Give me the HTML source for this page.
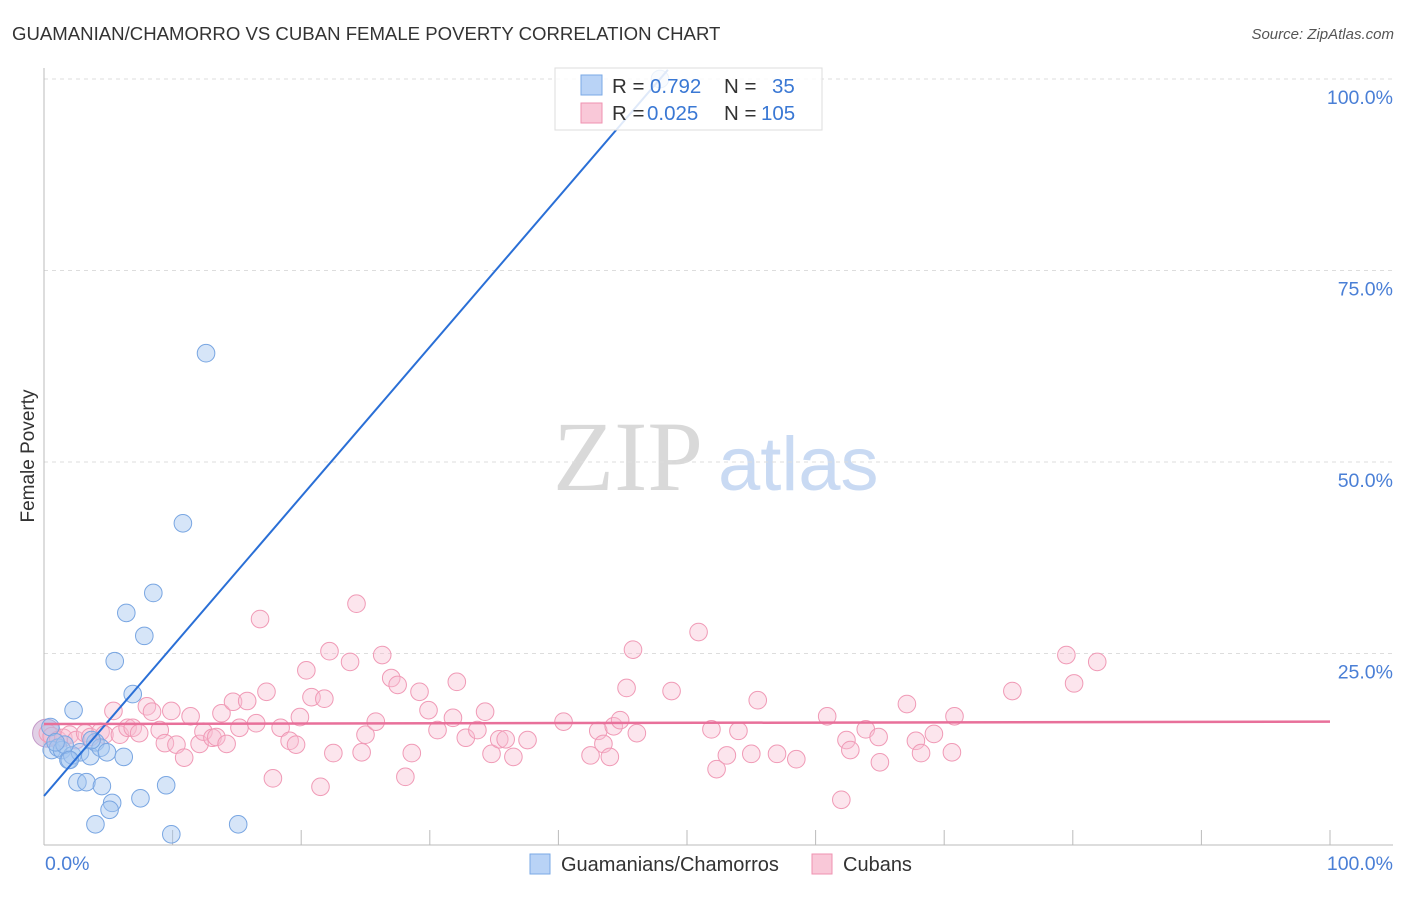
<!DOCTYPE html>
<html><head><meta charset="utf-8"><style>
body{margin:0;background:#fff;font-family:"Liberation Sans",sans-serif;}
</style></head><body>
<svg id="chart" width="1406" height="892" xmlns="http://www.w3.org/2000/svg" font-family="Liberation Sans, sans-serif">
<text x="12" y="40" font-size="18.6" fill="#333">GUAMANIAN/CHAMORRO VS CUBAN FEMALE POVERTY CORRELATION CHART</text>
<text x="1394" y="39" font-size="15" fill="#555" font-style="italic" text-anchor="end">Source: ZipAtlas.com</text>
<g>
<text x="553" y="490" font-size="100" fill="#d9d9d9" style="font-family:'Liberation Serif',serif">ZIP</text>
<text x="718" y="490" font-size="76" fill="#c9daf3">atlas</text>
</g>
<g id="grid"></g>
<g id="axes"></g>
<g id="pts"></g>
<g id="lines"></g>
<text transform="translate(34,456) rotate(-90)" font-size="19" fill="#333" text-anchor="middle">Female Poverty</text>
<g>
<rect x="555" y="68" width="267" height="62" fill="rgba(255,255,255,0.85)" stroke="#ddd"/>
<rect x="581" y="75" width="21" height="20" fill="#b9d3f6" stroke="#7aa8e6"/>
<rect x="581" y="103" width="21" height="20" fill="#f9c8d8" stroke="#ef92b0"/>
<text x="612" y="93" font-size="20.5" fill="#333">R = </text><text x="650" y="93" font-size="20.5" fill="#3a78d4">0.792</text>
<text x="724" y="93" font-size="20.5" fill="#333">N = </text><text x="772" y="93" font-size="20.5" fill="#3a78d4">35</text>
<text x="612" y="120" font-size="20.5" fill="#333">R = </text><text x="647" y="120" font-size="20.5" fill="#3a78d4">0.025</text>
<text x="724" y="120" font-size="20.5" fill="#333">N = </text><text x="761" y="120" font-size="20.5" fill="#3a78d4">105</text>
</g>
<g>
<rect x="530" y="854" width="20" height="20" fill="#b9d3f6" stroke="#7aa8e6"/>
<text x="561" y="871" font-size="20" fill="#333">Guamanians/Chamorros</text>
<rect x="812" y="854" width="20" height="20" fill="#f9c8d8" stroke="#ef92b0"/>
<text x="843" y="871" font-size="20" fill="#333">Cubans</text>
</g>
</svg>
<script>
const yTicks=[25,50,75,100];
const yTickLabels=["25.0%","50.0%","75.0%","100.0%"];
const xTickVals=[0,10,20,30,40,50,60,70,80,90,100];
const blueX=[47.9,12.6,10.8,8.5,6.4,7.8,5.5,6.9,2.3,0.5,0.6,1.1,1.4,1.9,2.2,2.8,3.6,4.0,4.4,4.9,6.2,2.6,3.3,4.5,5.3,5.1,7.5,9.5,4.0,9.9,15.1,1.6,0.9,3.7,2.0];
const blueY=[100,64.2,42.0,32.9,30.3,27.3,24.0,19.7,17.6,15.4,12.4,12.7,12.4,11.1,11.7,12.1,11.6,13.4,12.7,12.1,11.5,8.2,8.2,7.7,5.5,4.6,6.1,7.8,2.7,1.4,2.7,13.1,13.4,13.7,11.1];
const pinkX=[0.3,0.6,1.1,1.5,2.0,2.5,3.2,3.6,4.4,4.7,5.4,5.9,6.5,6.9,7.4,8.0,8.4,9.0,9.4,9.9,10.3,10.9,11.4,12.1,12.4,13.1,13.4,13.8,14.2,14.7,15.2,15.8,16.5,16.8,17.3,17.8,18.4,19.1,19.6,19.9,20.4,20.8,21.5,21.8,22.2,22.5,23.8,24.3,24.7,25.0,25.8,26.3,27.0,27.5,28.1,28.6,29.2,29.9,30.6,31.8,32.1,32.8,33.7,34.3,34.8,35.4,35.9,36.5,37.6,40.4,42.5,43.1,43.5,44.0,44.3,44.8,45.3,45.8,46.1,48.8,50.9,51.9,52.3,53.1,54.0,55.0,55.5,57.0,58.5,60.9,62.0,62.4,62.7,63.9,64.9,65.0,67.1,67.8,68.2,69.2,70.6,70.8,75.3,79.5,80.1,81.9];
const pinkY=[14.6,14.2,13.7,14.0,14.4,13.7,14.6,14.1,14.8,14.4,17.5,14.4,15.3,15.3,14.6,18.1,17.4,15.0,13.3,17.5,13.1,11.4,16.8,13.2,14.8,14.0,14.1,17.2,13.2,18.7,15.3,18.8,15.9,29.5,20.0,8.7,15.3,13.6,13.1,16.7,22.8,19.3,7.6,19.1,25.3,12.0,23.9,31.5,12.1,14.4,16.1,24.8,21.8,20.9,8.9,12.0,20.0,17.6,15.0,16.6,21.3,14.0,15.0,17.4,11.9,13.8,13.8,11.5,13.7,16.1,11.7,14.9,13.2,11.5,15.5,16.3,20.5,25.5,14.6,20.1,27.8,15.1,9.9,11.7,14.9,11.9,18.9,11.9,11.2,16.8,5.9,13.7,12.4,15.1,14.1,10.8,18.4,13.6,12.0,14.5,12.1,16.8,20.1,24.8,21.1,23.9];
const blueLine=[6.4,47.9,100];   // intercept, x at which y=100
const pinkLine=[15.8,16.1];      // y at x=0, y at x=100
const NS="http://www.w3.org/2000/svg";
const X=v=>44+v*12.86, Y=v=>845-v*7.66;
function mk(tag,attrs,parent){const e=document.createElementNS(NS,tag);for(const k in attrs)e.setAttribute(k,attrs[k]);document.getElementById(parent).appendChild(e);return e;}
yTicks.forEach((t,i)=>{
 const g=mk('line',{x1:44,x2:1393,y1:Y(t),y2:Y(t),stroke:'#ddd','stroke-dasharray':'4,4'},'grid');
 
 
 const l=mk('text',{x:1393,y:Y(t)+25,'font-size':19.5,fill:'#4a7fd6','text-anchor':'end'},'axes');
 l.textContent=yTickLabels[i];
 
 
});
const ax=mk('line',{x1:44,x2:44,y1:68,y2:845,stroke:'#bbb'},'axes');


const bx=mk('line',{x1:44,x2:1393,y1:845,y2:845,stroke:'#bbb'},'axes');


xTickVals.forEach(t=>{
 const k=mk('line',{x1:X(t),x2:X(t),y1:830,y2:845,stroke:'#bbb'},'axes');
 
 
});
const x0=mk('text',{x:45,y:870,'font-size':19.5,fill:'#4a7fd6'},'axes');x0.textContent='0.0%';


const x1=mk('text',{x:1393,y:870,'font-size':19.5,fill:'#4a7fd6','text-anchor':'end'},'axes');x1.textContent='100.0%';


const big=mk('circle',{cx:X(0.2),cy:Y(14.6),r:14,fill:'rgba(200,170,210,0.55)',stroke:'#c49ac8'},'pts');


pinkX.forEach((v,i)=>{
 const c=mk('circle',{cx:X(v),cy:Y(pinkY[i]),r:8.8,fill:'rgba(248,190,210,0.4)',stroke:'#f09ab6','stroke-width':1},'pts');
 
 
});
blueX.forEach((v,i)=>{
 const c=mk('circle',{cx:X(v),cy:Y(blueY[i]),r:8.8,fill:'rgba(165,198,240,0.45)',stroke:'#79a6e2','stroke-width':1},'pts');
 
 
});
const slope=(blueLine[2]-blueLine[0])/blueLine[1];
const xe=(101.2-blueLine[0])/slope;
const bl=mk('line',{x1:X(0),y1:Y(blueLine[0]),x2:X(xe),y2:Y(101.2),stroke:'#2a6fd6','stroke-width':2},'lines');


const pl=mk('line',{x1:X(0),y1:Y(pinkLine[0]),x2:X(100),y2:Y(pinkLine[1]),stroke:'#e8709a','stroke-width':2.5},'lines');


</script>
</body></html>
